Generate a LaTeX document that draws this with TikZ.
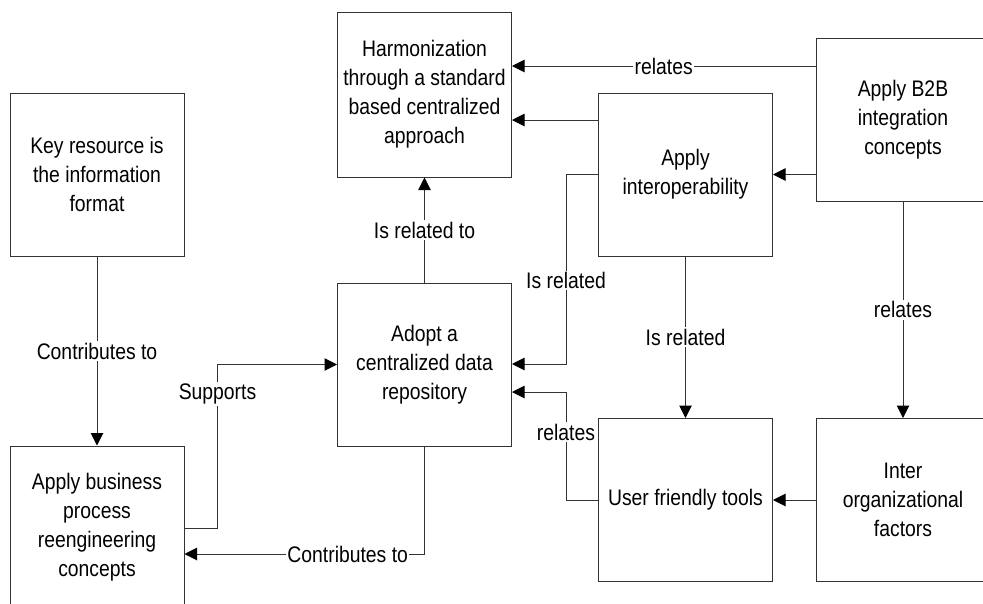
\documentclass[tikz,border=0pt]{standalone}
\usepackage{fontspec}
\setmainfont[FakeStretch=0.86]{Liberation Sans}
\usetikzlibrary{arrows.meta}

\begin{document}
\begin{tikzpicture}[x=1pt,y=-1pt,
  box/.style={draw=black!80,line width=1pt,minimum width=174pt,minimum height=163pt,
    inner sep=0pt,align=center,font=\fontsize{22.5}{29}\selectfont},
  link/.style={draw=black!80,line width=1pt,-{Triangle[length=12.5pt,width=12.5pt,color=black]}},
  lbl/.style={fill=white,inner sep=1.5pt,font=\fontsize{22.5}{29}\selectfont}]
  \useasboundingbox (0,0) rectangle (983,603);
  \clip (0,0) rectangle (983,603);

  \node[box,minimum height=165pt] (harm) at (424.5,94.5) {Harmonization\\through a standard\\based centralized\\approach};
  \node[box] (key) at (97,174.5) {Key resource is\\the information\\format};
  \node[box] (interop) at (685.5,174.5) {Apply\\interoperability};
  \node[box] (btob) at (903,119.5) {Apply B2B\\integration\\concepts};
  \node[box] (adopt) at (424.5,364.5) {Adopt a\\centralized data\\repository};
  \node[box] (bpr) at (97,527.5) {Apply business\\process\\reengineering\\concepts};
  \node[box] (tools) at (685.5,500) {User friendly tools};
  \node[box] (inter) at (903,500) {Inter\\organizational\\factors};

  \draw[link] (btob.west |- 0,66) -- node[lbl] {relates} (harm.east |- 0,66);
  \draw[link] (interop.west |- 0,120) -- (harm.east |- 0,120);
  \draw[link] (btob.west |- interop.east) -- (interop.east);
  \draw[link] (key) -- node[lbl] {Contributes to} (bpr);
  \draw[link] (adopt) -- node[lbl] {Is related to} (harm);
  \draw[link] (bpr.east |- 0,528) -- ++(33,0) |- node[lbl,pos=0.41] {Supports} (adopt.west);
  \draw[link] (adopt.south) |- node[lbl,pos=0.66] {Contributes to} (bpr.east |- 0,554);
  \draw[link] (interop.west) -- ++(-32,0) |- node[lbl,pos=0.28] {Is related} (adopt.east |- 0,364);
  \draw[link] (tools.west) -- ++(-32,0) |- node[lbl,pos=0.315] {relates} (adopt.east |- 0,392);
  \draw[link] (interop) -- node[lbl] {Is related} (tools);
  \draw[link] (btob) -- node[lbl] {relates} (inter);
  \draw[link] (inter) -- (tools);
\end{tikzpicture}
\end{document}
